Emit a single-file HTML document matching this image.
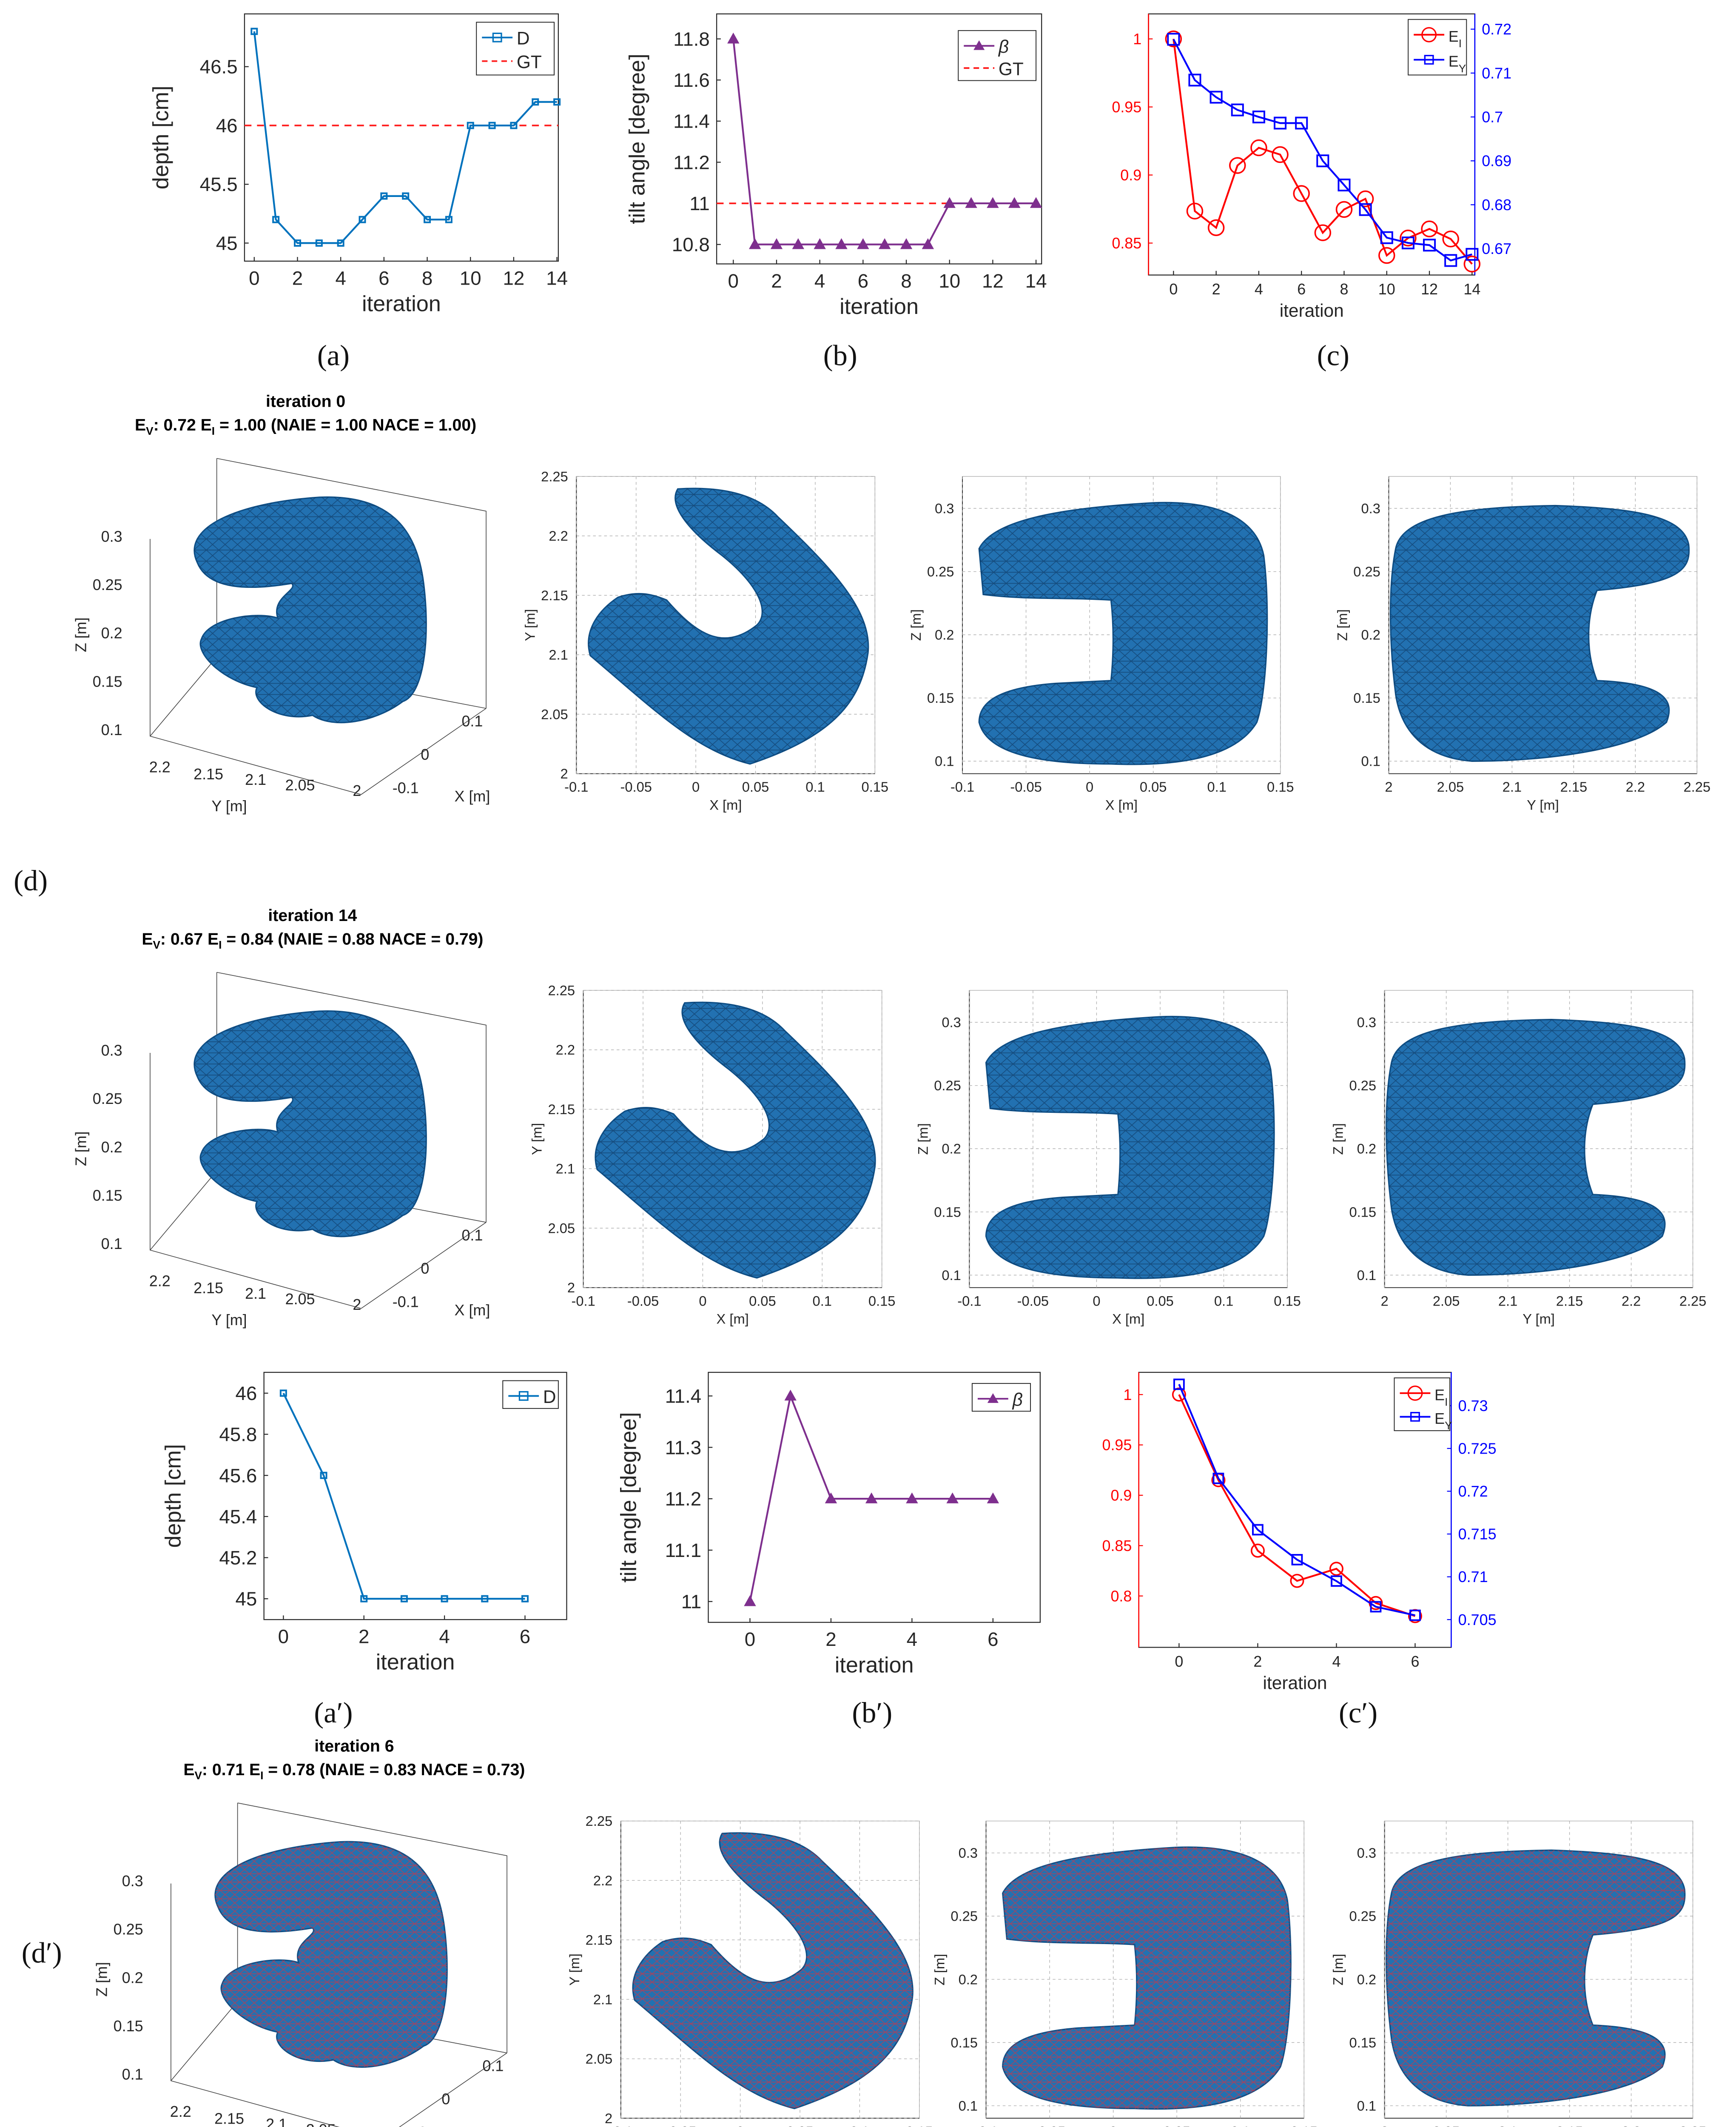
<!DOCTYPE html>
<html><head><meta charset="utf-8"><style>
html,body{margin:0;padding:0;background:#fff;width:4082px;height:5110px;overflow:hidden}
svg{display:block}
text{font-family:"Liberation Sans",sans-serif}
.serif{font-family:"Liberation Serif",serif}
</style></head><body>
<svg id="root" xmlns="http://www.w3.org/2000/svg" width="4082" height="5110" viewBox="0 0 1250 1565">
<defs>
<pattern id="meshK" width="9" height="8" patternUnits="userSpaceOnUse">
<path d="M0,0 L9,8 M9,0 L0,8 M0,4 L9,4" stroke="#0b2f55" stroke-width="0.5" fill="none" opacity="0.7"/>
</pattern>
<pattern id="meshR" width="7" height="6" patternUnits="userSpaceOnUse">
<path d="M0,0 L7,6 M7,0 L0,6 M0,3 L7,3" stroke="#e0303a" stroke-width="0.5" fill="none" opacity="0.8"/>
</pattern>
</defs>
<g id="g"></g>
</svg>
<script>
// ---------- chart data ----------
const itA = [0,1,2,3,4,5,6,7,8,9,10,11,12,13,14];
const depthA = [46.8,45.2,45,45,45,45.2,45.4,45.4,45.2,45.2,46,46,46,46.2,46.2];
const depthGT = 46;
const betaB = [11.8,10.8,10.8,10.8,10.8,10.8,10.8,10.8,10.8,10.8,11,11,11,11,11];
const betaGT = 11;
const eiC = [1,0.8735,0.8613,0.907,0.92,0.915,0.8864,0.8576,0.8747,0.8825,0.8409,0.8537,0.8604,0.853,0.8346];
const eyC = [0.7177,0.7084,0.7045,0.7016,0.700,0.6986,0.6986,0.690,0.6845,0.6789,0.6725,0.6713,0.6708,0.6673,0.6687];
const itP = [0,1,2,3,4,5,6];
const depthAp = [46,45.6,45,45,45,45,45];
const betaBp = [11,11.4,11.2,11.2,11.2,11.2,11.2];
const eiCp = [1,0.915,0.845,0.815,0.827,0.793,0.78];
const eyCp = [0.7325,0.7215,0.7155,0.712,0.7095,0.7065,0.7055];
const xTicks14 = [0,2,4,6,8,10,12,14];
const xTicks6 = [0,2,4,6];
const yTicksA = [45,45.5,46,46.5];
const yTicksB = [10.8,11,11.2,11.4,11.6,11.8];
const yTicksCL = [0.85,0.9,0.95,1];
const yTicksCR = [0.67,0.68,0.69,0.7,0.71,0.72];
const yTicksAp = [45,45.2,45.4,45.6,45.8,46];
const yTicksBp = [11,11.1,11.2,11.3,11.4];
const yTicksCLp = [0.8,0.85,0.9,0.95,1];
const yTicksCRp = [0.705,0.71,0.715,0.72,0.725,0.73];

const NS="http://www.w3.org/2000/svg";
const G=document.getElementById('g');
function el(tag,attrs,parent,txt){const e=document.createElementNS(NS,tag);for(const k in attrs)e.setAttribute(k,attrs[k]);if(txt!==undefined)e.textContent=txt;(parent||G).appendChild(e);return e;}
function lin(d0,d1,r0,r1){return v=>r0+(v-d0)*(r1-r0)/(d1-d0);}

function chart(o){
  const g=el('g',{});
  
  
  const b=o.box;
  el('rect',{x:b[0],y:b[1],width:b[2]-b[0],height:b[3]-b[1],fill:'#fff',stroke:'#262626','stroke-width':0.7},g);
  const X=lin(o.xd[0],o.xd[1],o.xr[0],o.xr[1]);
  const YL=lin(o.yd[0],o.yd[1],o.yr[0],o.yr[1]);
  const fs=o.fs||14;
  o.xt.forEach(v=>{const x=X(v);el('line',{x1:x,x2:x,y1:b[3],y2:b[3]-3,stroke:'#262626','stroke-width':0.7},g);
    const t=el('text',{x:x,y:b[3]+fs+3,'font-size':fs,'text-anchor':'middle',fill:'#262626'},g,String(v));
    });
  const lc=o.leftColor||'#262626';
  o.yt.forEach(v=>{const y=YL(v);el('line',{x1:b[0],x2:b[0]+3,y1:y,y2:y,stroke:lc,'stroke-width':0.7},g);
    const t=el('text',{x:b[0]-5,y:y+fs*0.35,'font-size':fs,'text-anchor':'end',fill:lc},g,String(v));
    });
  if(o.leftColor) el('line',{x1:b[0],x2:b[0],y1:b[1],y2:b[3],stroke:lc,'stroke-width':0.8},g);
  let YR=null;
  if(o.yr2){YR=lin(o.yd2[0],o.yd2[1],o.yr2[0],o.yr2[1]);
    el('line',{x1:b[2],x2:b[2],y1:b[1],y2:b[3],stroke:'#0000ff','stroke-width':0.8},g);
    o.yt2.forEach(v=>{const y=YR(v);el('line',{x1:b[2],x2:b[2]-3,y1:y,y2:y,stroke:'#00f','stroke-width':0.7},g);
      const t=el('text',{x:b[2]+5,y:y+fs*0.35,'font-size':fs,fill:'#0000ff'},g,String(v));
      });}
  const xt=el('text',{x:(b[0]+b[2])/2,y:b[3]+2*fs+8,'font-size':fs+2,'text-anchor':'middle',fill:'#262626'},g,'iteration');
  
  if(o.ylabel){const cy=(b[1]+b[3])/2,cx=b[0]-o.ylOff;
    const yt=el('text',{x:cx,y:cy,'font-size':fs+2,'text-anchor':'middle',fill:'#262626',transform:`rotate(-90 ${cx} ${cy})`},g,o.ylabel);
    }
  if(o.gt!==undefined){const y=YL(o.gt);const l=el('line',{x1:b[0],x2:b[2],y1:y,y2:y,stroke:'#ff2020','stroke-width':1.2,'stroke-dasharray':'5,4'},g);
    }
  o.series.forEach(s=>{
    const Y=s.right?YR:YL;
    const pts=s.vals.map((v,i)=>X(o.xs[i])+','+Y(v)).join(' ');
    const pl=el('polyline',{points:pts,fill:'none',stroke:s.color,'stroke-width':1.3},g);
    
    s.vals.forEach((v,i)=>{const x=X(o.xs[i]),y=Y(v);let m;
      if(s.marker==='sq')m=el('rect',{x:x-s.ms,y:y-s.ms,width:2*s.ms,height:2*s.ms,fill:s.mfill||'none',stroke:s.color,'stroke-width':1.2},g);
      else if(s.marker==='o')m=el('circle',{cx:x,cy:y,r:s.ms,fill:'none',stroke:s.color,'stroke-width':1.1},g);
      else m=el('polygon',{points:`${x},${y-s.ms} ${x-s.ms},${y+s.ms*0.8} ${x+s.ms},${y+s.ms*0.8}`,fill:s.color,stroke:s.color},g);
      });
  });
  const L=o.legend;
  const lg=el('g',{},g);
  el('rect',{x:L[0],y:L[1],width:L[2],height:L[3],fill:'#fff',stroke:'#262626','stroke-width':0.6},lg);
  o.legItems.forEach((it,i)=>{const y=L[1]+9+i*(L[3]-4)/o.legItems.length+2;
    const ent=el('g',{},lg);
    el('line',{x1:L[0]+4,x2:L[0]+26,y1:y,y2:y,stroke:it.color,'stroke-width':1.2,'stroke-dasharray':it.dash||''},ent);
    if(it.m==='sq')el('rect',{x:L[0]+12,y:y-3,width:6,height:6,fill:it.mfill||'none',stroke:it.color},ent);
    if(it.m==='o')el('circle',{cx:L[0]+15,cy:y,r:5,fill:'none',stroke:it.color},ent);
    if(it.m==='tri')el('polygon',{points:`${L[0]+15},${y-4} ${L[0]+11},${y+3} ${L[0]+19},${y+3}`,fill:it.color},ent);
    const t=el('text',{x:L[0]+29,y:y+5,'font-size':it.fs||13,fill:'#262626','font-style':it.it?'italic':'normal'},ent,it.label);
    if(it.sub){el('tspan',{'font-size':8,dy:4},t,it.sub);}
  });
}

chart({name:'chart-a-depth',box:[176,10,402,188],xd:[0,14],xr:[183,401],yd:[45,46.5],yr:[175,48],xt:xTicks14,yt:yTicksA,xs:itA,
 ylabel:'depth [cm]',ylOff:55,gt:depthGT,series:[{name:'depth',vals:depthA,color:'#0072bd',marker:'sq',ms:2,mfill:'none'}],
 legend:[343,16,56,38],legItems:[{label:'D',color:'#0072bd',m:'sq'},{label:'GT',color:'#ff2020',dash:'4,3'}]});
chart({name:'chart-b-tilt',box:[516,10,750,190],xd:[0,14],xr:[528,746],yd:[10.8,11.8],yr:[176,28],xt:xTicks14,yt:yTicksB,xs:itA,
 ylabel:'tilt angle [degree]',ylOff:52,gt:betaGT,series:[{name:'beta',vals:betaB,color:'#7e2f8e',marker:'tri',ms:3.5}],
 legend:[690,22,56,36],legItems:[{label:'β',color:'#7e2f8e',m:'tri',it:true},{label:'GT',color:'#ff2020',dash:'4,3'}]});
chart({name:'chart-c-error',box:[827,10,1062,198],xd:[0,14],xr:[845,1060],yd:[0.85,1],yr:[175,28],xt:xTicks14,yt:yTicksCL,xs:itA,fs:11,
 leftColor:'#ff0000',yd2:[0.67,0.72],yr2:[179,21],yt2:yTicksCR,
 series:[{name:'ei',vals:eiC,color:'#ff0000',marker:'o',ms:5.5},{name:'ey',vals:eyC,color:'#0000ff',marker:'sq',ms:4,right:true}],
 legend:[1014,14,42,40],legItems:[{label:'E',sub:'I',color:'#ff0000',m:'o',fs:11},{label:'E',sub:'Y',color:'#0000ff',m:'sq',fs:11}]});
chart({name:'chart-a-prime-depth',box:[190,988,408,1166],xd:[0,6],xr:[204,378],yd:[45,46],yr:[1151,1003],xt:xTicks6,yt:yTicksAp,xs:itP,
 ylabel:'depth [cm]',ylOff:60,series:[{name:'depth',vals:depthAp,color:'#0072bd',marker:'sq',ms:2}],
 legend:[362,994,40,20],legItems:[{label:'D',color:'#0072bd',m:'sq'}]});
chart({name:'chart-b-prime-tilt',box:[510,988,749,1168],xd:[0,6],xr:[540,715],yd:[11,11.4],yr:[1153,1005],xt:xTicks6,yt:yTicksBp,xs:itP,
 ylabel:'tilt angle [degree]',ylOff:52,series:[{name:'beta',vals:betaBp,color:'#7e2f8e',marker:'tri',ms:3.5}],
 legend:[700,996,42,20],legItems:[{label:'β',color:'#7e2f8e',m:'tri',it:true}]});
chart({name:'chart-c-prime-error',box:[820,988,1045,1186],xd:[0,6],xr:[849,1019],yd:[0.8,1],yr:[1149,1004],xt:xTicks6,yt:yTicksCLp,xs:itP,fs:11,
 leftColor:'#ff0000',yd2:[0.705,0.73],yr2:[1166,1012],yt2:yTicksCRp,
 series:[{name:'ei',vals:eiCp,color:'#ff0000',marker:'o',ms:4.5},{name:'ey',vals:eyCp,color:'#0000ff',marker:'sq',ms:3.5,right:true}],
 legend:[1004,992,40,38],legItems:[{label:'E',sub:'I',color:'#ff0000',m:'o',fs:11},{label:'E',sub:'Y',color:'#0000ff',m:'sq',fs:11}]});

[['(a)',240,263],['(b)',605,263],['(c)',960,263],['(d)',22,641],["(a′)",240,1240],["(b′)",628,1240],["(c′)",978,1240],["(d′)",30,1413]].forEach(c=>{
  const t=el('text',{x:c[1],y:c[2],'font-size':21,'text-anchor':'middle',fill:'#111',class:'serif'},G,c[0]);
  });

const shapes=[
 ['M142,405 C130,380 170,362 230,358 C280,356 300,380 305,420 C310,460 305,500 290,505 C270,520 240,525 225,515 C200,520 180,505 185,495 C160,490 140,470 145,460 C150,445 185,440 200,445 C195,430 215,425 210,420 C180,425 150,425 142,405 Z'],
 ['M488,352 C520,350 545,356 560,372 C600,410 628,440 625,470 C620,505 600,530 540,550 C500,540 470,510 425,472 C420,455 430,440 445,430 C460,425 470,428 480,432 C500,455 520,470 545,450 C555,440 545,420 520,400 C500,385 480,365 488,352 Z'],
 ['M705,395 C715,375 760,366 830,362 C880,360 905,375 910,400 C915,440 912,500 905,520 C890,545 850,552 800,550 C740,550 710,540 705,520 C705,505 720,495 760,492 L800,490 C802,470 802,450 800,432 C770,430 740,432 708,428 Z'],
 ['M1005,395 C1010,370 1060,365 1120,364 C1180,366 1212,372 1216,392 C1218,410 1210,420 1150,425 C1142,445 1142,470 1150,490 C1200,492 1206,505 1200,520 C1180,538 1120,548 1060,548 C1020,545 1008,520 1005,500 C1000,460 1000,420 1005,395 Z']
];
function panelRow(dy,dxs,mesh,title,sub,tx,ty){
  const row=el('g',{});
  const t1=el('text',{x:tx,y:ty,'font-size':12,'font-weight':'bold','text-anchor':'middle',fill:'#000'},row,title);
  
  const t2=el('text',{x:tx,y:ty+17,'font-size':12,'font-weight':'bold','text-anchor':'middle',fill:'#000'},row,'');
  
  sub.forEach(p=>{if(p[1])el('tspan',{'font-size':8,dy:3},t2,p[1]);el('tspan',{dy:p[1]?-3:0},t2,p[0]);});
  const p1=el('g',{transform:`translate(${dxs[0]},${dy})`},row);
  el('path',{d:'M108,388 L108,530 L260,572 L350,510 M108,530 L156,473 M156,330 L156,473 L350,510 M156,330 L350,368 L350,510',fill:'none',stroke:'#444','stroke-width':0.5},p1);
  ['0.3','0.25','0.2','0.15','0.1'].forEach((v,i)=>el('text',{x:88,y:390+i*34.8,'font-size':11,'text-anchor':'end',fill:'#262626'},p1,v));
  [['2.2',115,556],['2.15',150,561],['2.1',184,565],['2.05',216,569],['2',257,573],['-0.1',292,571],['0',306,547],['0.1',340,523]].forEach(a=>el('text',{x:a[1],y:a[2],'font-size':11,'text-anchor':'middle',fill:'#262626'},p1,a[0]));
  el('text',{x:62,y:457,'font-size':11,'text-anchor':'middle',fill:'#262626',transform:'rotate(-90 62 457)'},p1,'Z [m]');
  el('text',{x:165,y:584,'font-size':11,'text-anchor':'middle',fill:'#262626'},p1,'Y [m]');
  el('text',{x:340,y:577,'font-size':11,'text-anchor':'middle',fill:'#262626'},p1,'X [m]');
  const views=[
   {x0:415,x1:630,y0:343,y1:557,xt:['-0.1','-0.05','0','0.05','0.1','0.15'],yt:['2','2.05','2.1','2.15','2.2','2.25'],xl:'X [m]',yl:'Y [m]',name:'xy-view'},
   {x0:693,x1:922,y0:343,y1:557,xt:['-0.1','-0.05','0','0.05','0.1','0.15'],yt:['0.1','0.15','0.2','0.25','0.3'],yv:[548,502.5,457,411.5,366],xl:'X [m]',yl:'Z [m]',name:'xz-view'},
   {x0:1000,x1:1222,y0:343,y1:557,xt:['2','2.05','2.1','2.15','2.2','2.25'],yt:['0.1','0.15','0.2','0.25','0.3'],yv:[548,502.5,457,411.5,366],xl:'Y [m]',yl:'Z [m]',name:'yz-view'}];
  views.forEach((v,k)=>{
    const p=el('g',{transform:`translate(${dxs[k+1]},${dy})`},row);
    el('rect',{x:v.x0,y:v.y0,width:v.x1-v.x0,height:v.y1-v.y0,fill:'none',stroke:'#bbb','stroke-width':0.5},p);
    el('line',{x1:v.x0,x2:v.x0,y1:v.y0,y2:v.y1,stroke:'#333','stroke-width':0.6},p);
    el('line',{x1:v.x0,x2:v.x1,y1:v.y1,y2:v.y1,stroke:'#333','stroke-width':0.6},p);
    v.xt.forEach((s,i)=>{const x=v.x0+i*(v.x1-v.x0)/(v.xt.length-1);
      el('line',{x1:x,x2:x,y1:v.y0,y2:v.y1,stroke:'#aaa','stroke-width':0.4,'stroke-dasharray':'2,2'},p);
      el('text',{x:x,y:v.y1+13,'font-size':10,'text-anchor':'middle',fill:'#262626'},p,s);});
    v.yt.forEach((s,i)=>{const y=v.yv?v.yv[i]:v.y1-i*(v.y1-v.y0)/(v.yt.length-1);
      el('line',{x1:v.x0,x2:v.x1,y1:y,y2:y,stroke:'#aaa','stroke-width':0.4,'stroke-dasharray':'2,2'},p);
      el('text',{x:v.x0-6,y:y+3.5,'font-size':10,'text-anchor':'end',fill:'#262626'},p,s);});
    el('text',{x:(v.x0+v.x1)/2,y:v.y1+26,'font-size':10,'text-anchor':'middle',fill:'#262626'},p,v.xl);
    const cy=(v.y0+v.y1)/2;
    el('text',{x:v.x0-30,y:cy,'font-size':10,'text-anchor':'middle',fill:'#262626',transform:`rotate(-90 ${v.x0-30} ${cy})`},p,v.yl);
  });
  shapes.forEach((s,k)=>{
    const p=el('g',{transform:`translate(${dxs[k]},${dy})`},row);
    const b=el('path',{d:s[0],fill:'#2271b1',stroke:'#0f4f86','stroke-width':1},p);
    
    el('path',{d:s[0],fill:'url(#'+mesh+')',stroke:'none',opacity:0.8},p);
  });
}
panelRow(0,[0,0,0,0],'meshK','iteration 0',[['E'],[': 0.72  E','V'],[' = 1.00 (NAIE = 1.00  NACE = 1.00)','I']],220,293);
panelRow(370,[0,5,5,-3],'meshK','iteration 14',[['E'],[': 0.67  E','V'],[' = 0.84 (NAIE = 0.88  NACE = 0.79)','I']],225,663);
panelRow(968,[15,32,17,-3],'meshR','iteration 6',[['E'],[': 0.71  E','V'],[' = 0.78 (NAIE = 0.83  NACE = 0.73)','I']],255,1261);
</script>
</body></html>
